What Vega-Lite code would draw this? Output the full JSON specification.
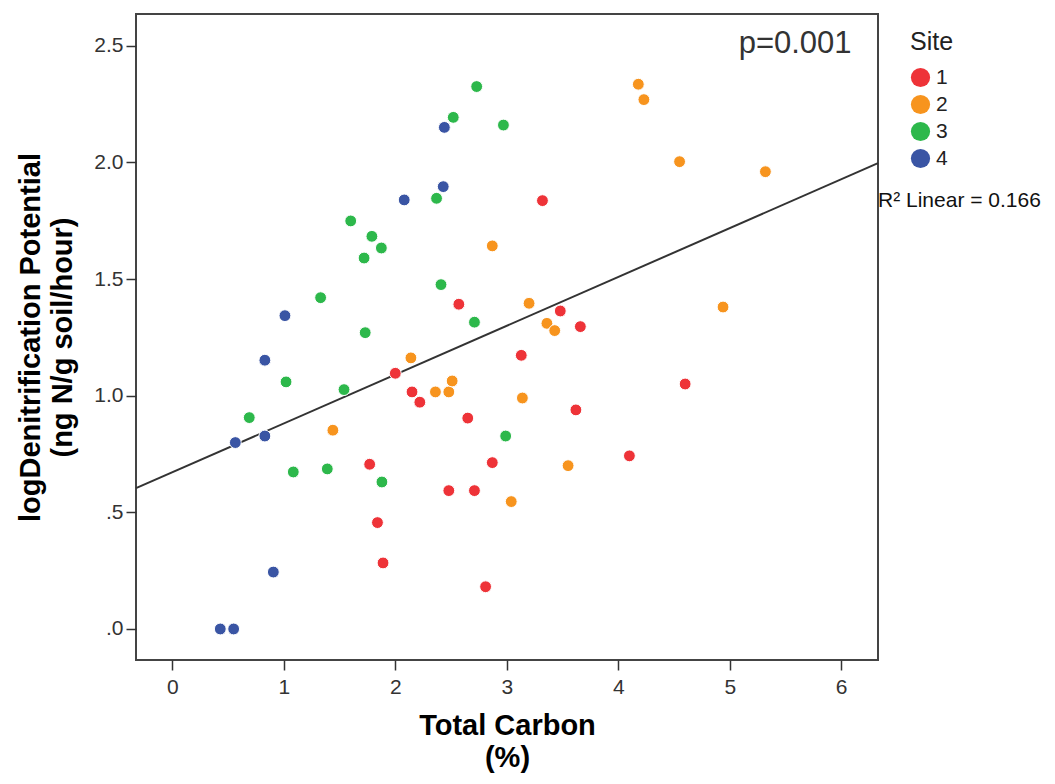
{
  "$schema": "https://vega.github.io/schema/vega-lite/v6.json",
  "width": 742,
  "height": 646,
  "autosize": {"type": "none"},
  "padding": {"left": 136, "top": 14, "right": 177, "bottom": 124},
  "background": "white",
  "config": {
    "view": {"stroke": "#444", "strokeWidth": 2},
    "font": "Liberation Sans",
    "axis": {"grid": false, "domain": false, "tickColor": "#333", "tickWidth": 1.5, "tickSize": 10, "labelFont": "Liberation Sans", "labelFontSize": 21, "labelColor": "#333", "titleFont": "Liberation Sans", "titleFontSize": 29, "titleFontWeight": "bold", "titleColor": "#000", "titleLineHeight": 32}
  },
  "datasets": {
    "pts": [
      {"site": "1", "carbon": 2.57, "logden": 1.392},
      {"site": "1", "carbon": 3.32, "logden": 1.836},
      {"site": "1", "carbon": 3.48, "logden": 1.363},
      {"site": "1", "carbon": 3.66, "logden": 1.296},
      {"site": "1", "carbon": 2.00, "logden": 1.096},
      {"site": "1", "carbon": 2.15, "logden": 1.016},
      {"site": "1", "carbon": 2.22, "logden": 0.972},
      {"site": "1", "carbon": 2.65, "logden": 0.904},
      {"site": "1", "carbon": 1.77, "logden": 0.706},
      {"site": "1", "carbon": 2.48, "logden": 0.593},
      {"site": "1", "carbon": 2.71, "logden": 0.593},
      {"site": "1", "carbon": 2.87, "logden": 0.713},
      {"site": "1", "carbon": 1.84, "logden": 0.456},
      {"site": "1", "carbon": 1.89, "logden": 0.283},
      {"site": "1", "carbon": 2.81, "logden": 0.181},
      {"site": "1", "carbon": 3.13, "logden": 1.173},
      {"site": "1", "carbon": 4.60, "logden": 1.050},
      {"site": "1", "carbon": 3.62, "logden": 0.939},
      {"site": "1", "carbon": 4.10, "logden": 0.742},
      {"site": "2", "carbon": 2.87, "logden": 1.642},
      {"site": "2", "carbon": 4.18, "logden": 2.335},
      {"site": "2", "carbon": 4.23, "logden": 2.269},
      {"site": "2", "carbon": 4.55, "logden": 2.003},
      {"site": "2", "carbon": 5.32, "logden": 1.960},
      {"site": "2", "carbon": 3.20, "logden": 1.396},
      {"site": "2", "carbon": 3.36, "logden": 1.310},
      {"site": "2", "carbon": 3.43, "logden": 1.279},
      {"site": "2", "carbon": 4.94, "logden": 1.380},
      {"site": "2", "carbon": 2.14, "logden": 1.162},
      {"site": "2", "carbon": 2.36, "logden": 1.016},
      {"site": "2", "carbon": 2.48, "logden": 1.016},
      {"site": "2", "carbon": 2.51, "logden": 1.063},
      {"site": "2", "carbon": 1.44, "logden": 0.852},
      {"site": "2", "carbon": 3.04, "logden": 0.546},
      {"site": "2", "carbon": 3.14, "logden": 0.990},
      {"site": "2", "carbon": 3.55, "logden": 0.700},
      {"site": "3", "carbon": 2.73, "logden": 2.325},
      {"site": "3", "carbon": 2.52, "logden": 2.193},
      {"site": "3", "carbon": 2.97, "logden": 2.160},
      {"site": "3", "carbon": 2.37, "logden": 1.846},
      {"site": "3", "carbon": 1.60, "logden": 1.749},
      {"site": "3", "carbon": 1.79, "logden": 1.683},
      {"site": "3", "carbon": 1.875, "logden": 1.633},
      {"site": "3", "carbon": 1.72, "logden": 1.590},
      {"site": "3", "carbon": 2.41, "logden": 1.476},
      {"site": "3", "carbon": 2.71, "logden": 1.315},
      {"site": "3", "carbon": 1.33, "logden": 1.420},
      {"site": "3", "carbon": 1.73, "logden": 1.270},
      {"site": "3", "carbon": 1.02, "logden": 1.059},
      {"site": "3", "carbon": 1.54, "logden": 1.026},
      {"site": "3", "carbon": 0.69, "logden": 0.906},
      {"site": "3", "carbon": 2.99, "logden": 0.827},
      {"site": "3", "carbon": 1.085, "logden": 0.673},
      {"site": "3", "carbon": 1.39, "logden": 0.686},
      {"site": "3", "carbon": 1.88, "logden": 0.630},
      {"site": "4", "carbon": 2.44, "logden": 2.150},
      {"site": "4", "carbon": 2.43, "logden": 1.896},
      {"site": "4", "carbon": 2.08, "logden": 1.839},
      {"site": "4", "carbon": 1.01, "logden": 1.343},
      {"site": "4", "carbon": 0.83, "logden": 1.152},
      {"site": "4", "carbon": 0.565, "logden": 0.799},
      {"site": "4", "carbon": 0.83, "logden": 0.827},
      {"site": "4", "carbon": 0.906, "logden": 0.244},
      {"site": "4", "carbon": 0.43, "logden": 0.0},
      {"site": "4", "carbon": 0.55, "logden": 0.0}
    ],
    "notes": [{"label": "p=0.001"}],
    "r2": [{"label": "R² Linear = 0.166"}]
  },
  "layer": [
    {
      "data": {"name": "pts"},
      "transform": [{"regression": "logden", "on": "carbon", "extent": [-0.326, 6.33]}],
      "mark": {"type": "line", "color": "#333", "strokeWidth": 2},
      "encoding": {
        "x": {"field": "carbon", "type": "quantitative"},
        "y": {"field": "logden", "type": "quantitative"}
      }
    },
    {
      "data": {"name": "pts"},
      "mark": {"type": "circle", "size": 140, "opacity": 1, "stroke": "white", "strokeWidth": 1},
      "encoding": {
        "x": {
          "field": "carbon", "type": "quantitative",
          "scale": {"domain": [-0.326, 6.33], "nice": false, "zero": false},
          "axis": {"values": [0, 1, 2, 3, 4, 5, 6], "format": "d", "title": ["Total Carbon", "(%)"], "labelPadding": 6, "titlePadding": 14}
        },
        "y": {
          "field": "logden", "type": "quantitative",
          "scale": {"domain": [-0.133, 2.636], "nice": false, "zero": false},
          "axis": {"values": [0, 0.5, 1, 1.5, 2, 2.5], "labelExpr": "datum.value == 0 ? '.0' : datum.value == 0.5 ? '.5' : format(datum.value, '.1f')", "title": ["logDenitrification Potential", "(ng N/g soil/hour)"], "labelPadding": 3, "titlePadding": 16}
        },
        "color": {
          "field": "site", "type": "nominal",
          "scale": {"domain": ["1", "2", "3", "4"], "range": ["#ee3338", "#f7941e", "#2db84b", "#3a55a4"]},
          "legend": {
            "title": "Site", "orient": "none", "legendX": 774, "legendY": 16,
            "titleFont": "Liberation Sans", "titleFontSize": 25, "titleFontWeight": "normal", "titleColor": "#222", "titlePadding": 12,
            "labelFont": "Liberation Sans", "labelFontSize": 21, "labelColor": "#222", "labelOffset": 5,
            "symbolType": "circle", "symbolSize": 370, "symbolStrokeWidth": 0, "symbolOpacity": 1, "rowPadding": 5, "padding": 0
          }
        }
      }
    },
    {
      "data": {"name": "notes"},
      "mark": {"type": "text", "align": "right", "baseline": "alphabetic", "fontSize": 31, "font": "Liberation Sans", "color": "#333"},
      "encoding": {
        "x": {"datum": 6.093, "type": "quantitative"},
        "y": {"datum": 2.468, "type": "quantitative"},
        "text": {"field": "label"}
      }
    },
    {
      "data": {"name": "r2"},
      "mark": {"type": "text", "align": "left", "baseline": "alphabetic", "fontSize": 21, "font": "Liberation Sans", "color": "#111"},
      "encoding": {
        "x": {"datum": 6.33, "type": "quantitative"},
        "y": {"datum": 1.809, "type": "quantitative"},
        "text": {"field": "label"}
      }
    }
  ]
}
